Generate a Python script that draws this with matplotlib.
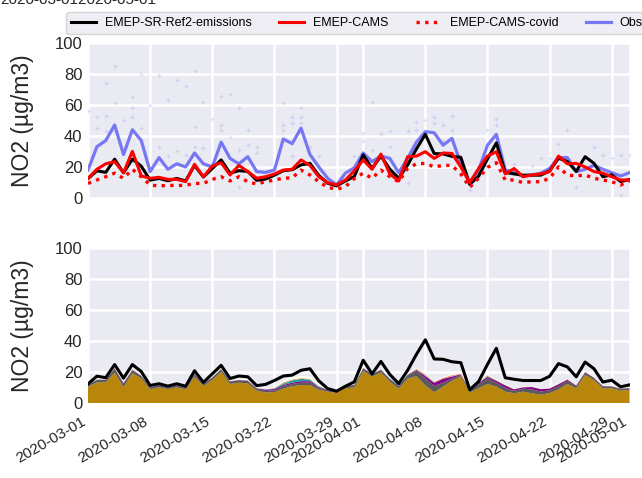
import numpy as np
import pandas as pd
import matplotlib
matplotlib.use("Agg")
import matplotlib.pyplot as plt
import matplotlib.dates as mdates
from matplotlib.lines import Line2D

plt.rcParams["font.family"] = ["Liberation Sans", "DejaVu Sans"]

dates = pd.date_range("2020-03-01", "2020-05-01", freq="D")

# Daily mean NO2 (µg/m3)
ref2 = [12.5, 17.5, 16.5, 25.0, 16.2, 25.0, 20.5, 11.5, 12.6, 11.1, 12.6, 11.0, 21.0, 13.5, 19.0,
        24.5, 16.0, 17.6, 17.1, 11.4, 12.2, 14.7, 17.6, 18.2, 21.3, 22.3, 14.5, 9.5, 7.8, 11.0,
        13.8, 27.8, 19.0, 27.0, 18.6, 12.7, 21.2, 31.6, 41.0, 28.6, 28.4, 26.8, 26.2, 8.8, 14.0,
        25.1, 35.5, 16.5, 15.5, 14.7, 14.7, 14.7, 17.4, 25.6, 23.5, 17.1, 26.6, 22.3, 13.7, 14.9,
        10.6, 11.9]
cams = [12.7, 18.5, 22.0, 23.4, 16.3, 30.0, 14.2, 12.7, 13.3, 12.0, 12.0, 10.5, 21.7, 13.7, 20.6,
        22.7, 14.8, 21.0, 17.0, 12.7, 13.7, 15.5, 18.0, 18.5, 24.5, 21.0, 13.7, 9.9, 8.4, 11.6,
        17.5, 24.5, 18.5, 28.3, 15.5, 11.0, 26.6, 27.0, 29.8, 25.5, 29.0, 28.7, 20.0, 9.9, 19.0,
        27.0, 29.8, 15.5, 19.0, 13.7, 14.8, 15.5, 17.0, 27.0, 22.0, 22.3, 20.0, 17.0, 16.0, 13.7,
        11.6, 11.6]
cams_covid = [9.4, 11.6, 13.7, 16.0, 12.7, 18.5, 13.7, 8.4, 7.7, 8.2, 8.0, 8.2, 9.4, 9.4, 12.0,
              13.7, 11.0, 13.7, 10.5, 9.0, 10.5, 11.6, 12.7, 13.0, 18.0, 14.8, 10.5, 6.9, 5.6, 7.3,
              12.5, 16.0, 12.7, 18.0, 13.7, 10.5, 19.0, 22.0, 22.3, 20.0, 21.0, 21.0, 15.5, 6.9, 12.7,
              19.7, 22.7, 11.6, 11.6, 9.9, 10.5, 10.5, 12.7, 20.0, 14.8, 14.2, 14.8, 12.7, 11.6, 10.5,
              8.4, 11.0]
obs_mean = [18.0, 33.0, 37.0, 47.0, 28.0, 44.0, 37.0, 17.0, 26.0, 18.5, 22.0, 20.0, 29.0, 22.0, 20.0,
            36.0, 25.5, 22.0, 26.6, 17.0, 16.5, 18.0, 38.0, 35.0, 45.0, 28.0, 20.0, 12.7, 8.4, 16.0,
            19.5, 29.0, 23.4, 27.0, 25.5, 16.3, 25.5, 36.0, 42.7, 42.0, 34.0, 38.4, 22.0, 9.0, 18.0,
            34.0, 41.0, 18.0, 16.3, 14.2, 14.8, 16.0, 19.0, 26.0, 26.0, 17.0, 18.5, 21.0, 18.5, 16.3,
            14.2, 16.3]

# Individual station values: (day index, NO2)
station_points = [
    (3, 85), (2, 74), (6, 80), (5, 65), (3, 61), (0, 56), (1, 52), (2, 53), (5, 58), (5, 52),
    (4, 50), (6, 45), (1, 45), (2, 43), (3, 43), (8, 79), (10, 76), (9, 63), (11, 72), (12, 82),
    (13, 62), (12, 46), (8, 33), (9, 27), (10, 30), (11, 28), (12, 33), (13, 32), (14, 51), (7, 60),
    (15, 66), (16, 67), (17, 58), (15, 47), (15, 44), (16, 39), (18, 44), (18, 34), (19, 33),
    (19, 29), (22, 61), (22, 47), (22, 44), (23, 52), (23, 48.5), (24, 58), (24, 52), (24, 48),
    (23, 27), (25, 33), (26, 27), (17, 7), (17, 31),
    (32, 62), (31, 42), (31, 37), (33, 41), (34, 43), (34, 33), (36, 43), (37, 49), (38, 50),
    (39, 52), (39, 48), (40, 47), (41, 53), (41, 44), (40, 37), (37, 44), (32, 31), (30, 27),
    (35, 11.6), (36, 9.4), (43, 5),
    (46, 51), (46, 47), (45, 44), (54, 44), (53, 35), (57, 33), (58, 28), (59, 26), (60, 28),
    (61, 28), (48, 22), (50, 20.6), (51, 25.5), (52, 25.5), (55, 7.3), (60, 2),
]

# Stacked contributions (µg/m3)
layer_gold = [10.8, 13.5, 13.5, 19.8, 10.5, 19.4, 16.1, 9.0, 10.3, 9.2, 10.3, 9.0, 17.2, 11.2, 15.0,
              20.4, 12.5, 13.3, 12.9, 8.2, 7.0, 7.2, 9.5, 11.0, 11.8, 11.8, 8.8, 7.5, 6.8, 9.8,
              10.2, 21.0, 17.2, 20.0, 14.0, 9.5, 16.0, 17.5, 11.5, 7.2, 10.8, 14.5, 17.4, 6.9, 9.7,
              12.5, 10.8, 7.5, 6.5, 7.5, 6.5, 5.6, 6.5, 9.0, 12.5, 9.7, 18.3, 15.0, 9.7, 9.7,
              8.2, 8.6]
layer_grey = [1.0, 1.5, 1.5, 2.5, 2.0, 2.0, 1.5, 1.2, 1.2, 1.0, 1.2, 1.0, 1.5, 1.2, 1.5, 1.5, 1.5,
              1.5, 1.5, 1.2, 1.0, 1.2, 1.5, 1.5, 1.5, 1.5, 1.2, 0.8, 0.6, 1.0, 1.5, 1.5, 1.5, 1.5,
              1.5, 1.5, 2.0, 3.5, 4.5, 4.0, 2.5, 1.5, 0.8, 1.5, 2.5, 3.5, 2.5, 2.5, 1.5, 2.0, 2.5,
              2.0, 1.8, 2.0, 2.0, 1.5, 1.5, 1.2, 1.2, 1.0, 1.0, 1.0]
layer_purple = [0.2, 0.2, 0.2, 0.2, 0.6, 0.2, 0.2, 0.2, 0.2, 0.2, 0.2, 0.2, 0.2, 0.2, 0.2, 0.2, 0.2,
                0.2, 0.2, 0.3, 0.8, 0.8, 0.8, 0.8, 1.0, 1.0, 0.5, 0.3, 0.2, 0.2, 0.2, 0.2, 0.2, 0.2,
                0.2, 0.3, 0.3, 0.5, 1.5, 2.0, 2.5, 1.2, 0.5, 0.2, 0.8, 1.0, 1.2, 1.5, 1.0, 0.8, 1.5,
                1.5, 1.2, 1.2, 0.8, 0.3, 0.3, 0.3, 0.2, 0.2, 0.2, 0.2]
layer_teal = [0.1, 0.1, 0.1, 0.2, 0.1, 0.1, 0.1, 0.1, 0.1, 0.1, 0.1, 0.1, 0.1, 0.1, 0.1, 0.1, 0.1,
              0.1, 0.1, 0.1, 0.2, 0.4, 0.9, 1.5, 1.5, 1.0, 0.4, 0.2, 0.1, 0.1, 0.1, 0.1, 0.2, 0.1,
              0.3, 0.8, 0.2, 0.3, 0.5, 0.3, 0.2, 0.2, 0.1, 0.1, 0.3, 0.6, 0.2, 0.2, 0.1, 0.1, 0.1,
              0.1, 0.1, 0.2, 0.1, 0.1, 0.1, 0.1, 0.1, 0.1, 0.1, 0.1]
layer_salmon = [0.2, 0.2, 0.2, 0.3, 0.2, 0.3, 0.2, 0.2, 0.2, 0.2, 0.2, 0.2, 0.2, 0.2, 0.2, 0.2, 0.2,
                0.2, 0.2, 0.2, 0.2, 0.4, 0.8, 0.6, 0.5, 0.5, 0.3, 0.2, 0.2, 0.2, 0.2, 0.2, 0.2, 0.2,
                0.2, 0.2, 0.3, 0.6, 0.8, 0.5, 0.6, 0.8, 0.4, 0.2, 0.4, 0.6, 0.3, 0.3, 0.2, 0.2, 0.2,
                0.2, 0.2, 0.3, 0.2, 0.2, 0.2, 0.2, 0.2, 0.2, 0.2, 0.2]
layer_cream = [0.5, 0.6, 0.6, 0.8, 0.6, 0.8, 0.6, 0.4, 0.5, 0.4, 0.5, 0.4, 0.6, 0.5, 0.6, 0.8, 0.5,
               0.6, 0.6, 0.4, 0.4, 0.6, 1.2, 1.3, 1.5, 1.5, 0.8, 0.4, 0.3, 0.4, 0.5, 0.5, 0.4, 0.5,
               0.4, 0.4, 0.6, 0.8, 0.6, 0.5, 0.6, 0.6, 0.6, 0.3, 0.4, 0.5, 0.5, 0.4, 0.4, 0.3, 0.3,
               0.3, 0.4, 0.5, 0.5, 0.4, 0.5, 0.5, 0.3, 0.3, 0.3, 0.3]
layer_colors = ["#b8860b", "#5a5a5a", "#8b008b", "#20a39e", "#f4a07a", "#fffff0"]

yticks = [0, 20, 40, 60, 80, 100]
ylabel = "NO2 (\u00b5g/m3)"
period_title = "2020-03-012020-05-01"

BG = "#EAEAF2"
OBS_COLOR = (0.42, 0.42, 0.96)

fig = plt.figure(figsize=(6.42, 4.78), dpi=100)
W, H = 642, 478


def px_axes(left, top, right, bottom):
    return fig.add_axes([left / W, 1 - bottom / H, (right - left) / W, (bottom - top) / H])


ax_top = px_axes(88, 42.7, 629.5, 198)
ax_bot = px_axes(88, 248.3, 629.5, 403.3)

for ax in (ax_top, ax_bot):
    ax.set_facecolor(BG)
    for s in ax.spines.values():
        s.set_visible(False)
    ax.grid(True, color="white", linewidth=1.8)
    ax.set_axisbelow(True)
    ax.tick_params(length=0, colors="#262626")
    ax.tick_params(axis="y", labelsize=12, pad=4)
    ax.tick_params(axis="x", labelsize=11, pad=8)
    ax.set_ylim(0, 100)
    ax.set_yticks(yticks)
    ax.set_xlim(dates[0], dates[-1])
    ax.xaxis.set_major_locator(mdates.DayLocator(bymonthday=[1, 8, 15, 22, 29]))
    ax.xaxis.set_major_formatter(mdates.DateFormatter("%Y-%m-%d"))
    ax.set_ylabel(ylabel, fontsize=16.5, color="#262626", labelpad=15)

# Upper panel: observations and model runs
sd = [dates[d] for d, _ in station_points]
sv = [v for _, v in station_points]
ax_top.plot(sd, sv, "+", color=OBS_COLOR, alpha=0.22, markersize=3.5, markeredgewidth=0.8)
ax_top.plot(dates, obs_mean, color=OBS_COLOR, lw=2.3, alpha=0.9)
ax_top.plot(dates, ref2, color="black", lw=2.2)
ax_top.plot(dates, cams, color="red", lw=2.2)
ax_top.plot(dates, cams_covid, color="red", lw=2.4, linestyle=(0, (1, 1.6)))
ax_top.tick_params(labelbottom=False)

# Lower panel: stacked contributions with the reference total
ax_bot.stackplot(dates, layer_gold, layer_grey, layer_purple, layer_teal, layer_salmon,
                 layer_cream, colors=layer_colors, linewidth=0)
ax_bot.plot(dates, ref2, color="black", lw=2.2)
for lab in ax_bot.get_xticklabels():
    lab.set_rotation(30)
    lab.set_ha("right")

handles = [
    Line2D([], [], color="black", lw=2.2),
    Line2D([], [], color="red", lw=2.2),
    Line2D([], [], color="red", lw=2.4, linestyle=(0, (1, 1.6))),
    Line2D([], [], color=OBS_COLOR, lw=2.3, alpha=0.9),
]
labels = ["EMEP-SR-Ref2-emissions", "EMEP-CAMS", "EMEP-CAMS-covid", "Obs"]
fig.legend(handles, labels, loc="upper left", bbox_to_anchor=(60 / W, 1 - 6 / H), ncol=4,
           fontsize=9, frameon=True, facecolor=BG, edgecolor="#cccccc", framealpha=0.8,
           columnspacing=2.2, handlelength=2.0, handletextpad=0.7, borderpad=0.4)

fig.text(0.0, 1 - 4.0 / H, period_title, fontsize=11, color="#262626", ha="left", va="baseline")

fig.savefig("out.png", dpi=100)
